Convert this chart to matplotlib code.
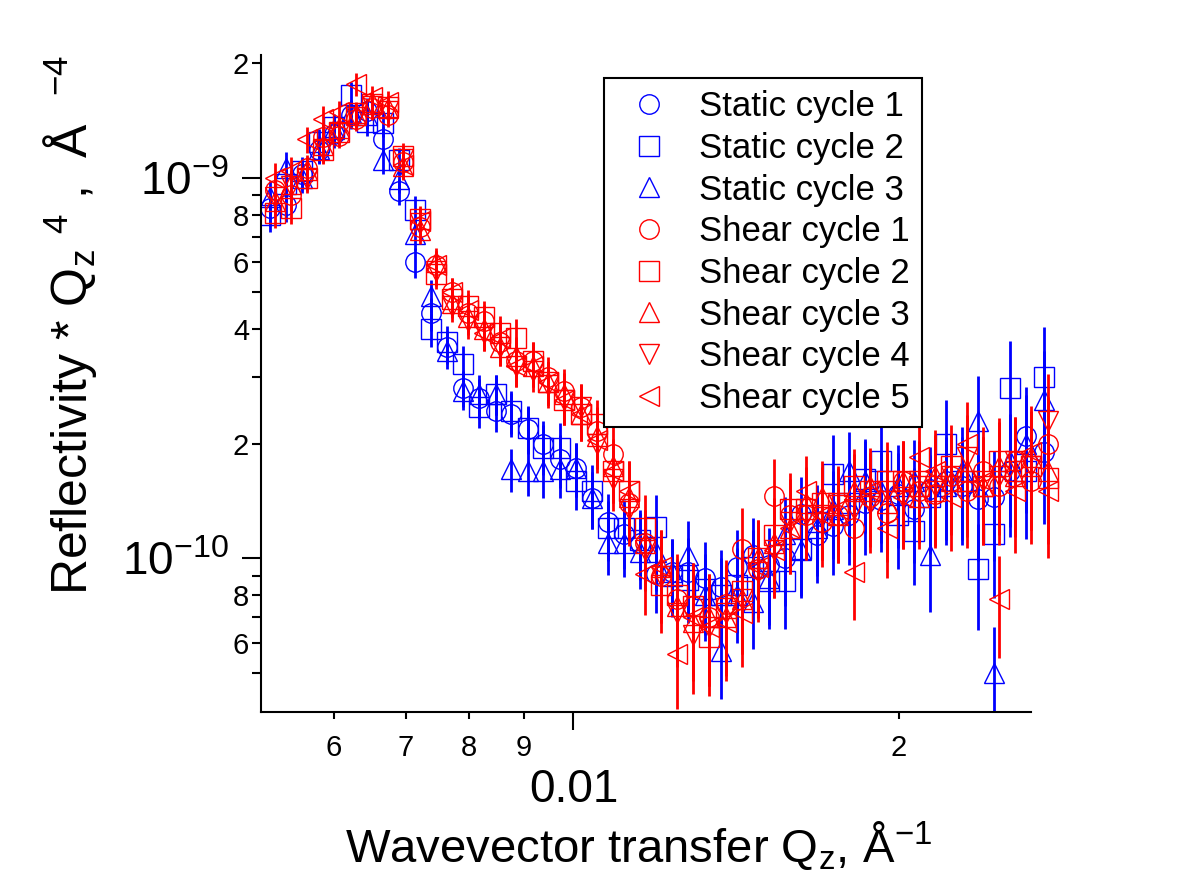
import matplotlib
matplotlib.use('Agg')
import matplotlib.pyplot as plt
from matplotlib.ticker import FixedLocator, FixedFormatter

plt.rcParams['font.family'] = ['Liberation Sans', 'DejaVu Sans']
plt.rcParams['mathtext.fontset'] = 'custom'
plt.rcParams['mathtext.rm'] = 'Liberation Sans'
plt.rcParams['mathtext.it'] = 'Liberation Sans'
plt.rcParams['mathtext.default'] = 'regular'

# значения по оси Y в единицах 1e-10
unit = 1e-10

qz_static = [0.00524, 0.00542, 0.00561, 0.00581, 0.00601, 0.00622, 0.00644, 0.00666,
             0.00689, 0.00713, 0.00738, 0.00764, 0.00791, 0.00818, 0.00847, 0.00876,
             0.00907, 0.00938, 0.00971, 0.01005, 0.01040, 0.01076, 0.01114, 0.01153,
             0.01193, 0.01234, 0.01277, 0.01322, 0.01368, 0.01416, 0.01465, 0.01516,
             0.01569, 0.01624, 0.01680, 0.01739, 0.01800, 0.01862, 0.01927, 0.01995,
             0.02064, 0.02136, 0.02211, 0.02288, 0.02368, 0.02450, 0.02536, 0.02624,
             0.02724]
qz_shear = [0.00530, 0.00548, 0.00567, 0.00587, 0.00607, 0.00629, 0.00651, 0.00673,
            0.00696, 0.00721, 0.00746, 0.00772, 0.00799, 0.00827, 0.00856, 0.00885,
            0.00917, 0.00948, 0.00981, 0.01016, 0.01051, 0.01088, 0.01126, 0.01165,
            0.01206, 0.01247, 0.01291, 0.01336, 0.01383, 0.01431, 0.01481, 0.01532,
            0.01586, 0.01641, 0.01698, 0.01758, 0.01819, 0.01882, 0.01948, 0.02016,
            0.02086, 0.02159, 0.02235, 0.02313, 0.02393, 0.02476, 0.02563, 0.02652,
            0.02745]

static1 = [8.3, 8.5, 10.2, 11.8, 13.0, 14.6, 15.0, 12.6, 9.2, 6.0, 4.4, 3.6, 2.8, 2.64, 2.44, 2.4,
           2.19, 2.0, 1.82, 1.73, 1.44, 1.25, 1.16, 1.1, 0.91, 0.92, 0.92, 0.89, 0.84, 0.95, 1.02, 0.96,
           1.0, 1.31, 1.15, 1.22, 1.3, 1.4, 1.42, 1.48, 1.35, 1.52, 1.6, 1.55, 1.43, 1.45, 1.7, 2.1,
           1.9]
static2 = [8.0, 9.6, 10.4, 12.4, 13.6, 16.5, 14.0, 13.9, 11.1, 8.2, 4.0, 3.7, 3.25, 2.5, 2.7, 2.44,
           2.2, 1.95, 1.95, 1.6, 1.5, 1.2, 1.2, 1.12, 1.21, 0.9, 0.88, 0.83, 0.8, 0.85, 0.95, 0.87,
           0.87, 1.06, 1.25, 1.67, 1.4, 1.62, 1.8, 1.3, 1.18, 1.45, 2.0, 1.6, 0.94, 1.16, 2.8, 1.7,
           3.0]
static3 = [8.9, 10.6, 10.0, 11.9, 13.4, 14.8, 14.6, 11.1, 9.9, 7.1, 4.9, 3.5, 2.75, 2.7, 2.7, 1.72,
           1.7, 1.7, 1.72, 1.73, 1.44, 1.1, 1.1, 1.04, 1.04, 0.92, 1.02, 0.80, 0.57, 0.80, 0.77, 0.89,
           1.16, 1.05, 1.2, 1.35, 1.7, 1.6, 1.5, 1.55, 1.6, 1.02, 1.55, 1.7, 2.3, 0.5, 1.8, 2.0,
           2.6]

shear1 = [9.3, 9.0, 10.6, 12.8, 12.9, 14.3, 15.2, 14.6, 11.0, 7.4, 5.9, 5.0, 4.4, 4.2, 3.7, 3.3,
          3.3, 3.0, 2.76, 2.5, 2.16, 1.88, 1.4, 1.1, 0.9, 0.78, 0.75, 0.7, 0.76, 1.06, 0.94, 1.46,
          1.3, 1.3, 1.25, 1.3, 1.2, 1.45, 1.32, 1.6, 1.5, 1.48, 1.65, 1.5, 1.7, 1.55, 1.8, 1.6,
          2.0]
shear2 = [8.1, 8.3, 10.0, 11.8, 13.2, 14.8, 15.6, 15.3, 11.4, 7.8, 5.6, 4.8, 4.6, 4.3, 3.9, 3.8,
          3.3, 2.9, 2.6, 2.4, 2.25, 1.7, 1.5, 1.2, 0.85, 0.8, 0.75, 0.62, 0.74, 0.82, 1.0, 1.15,
          1.35, 1.35, 1.4, 1.38, 1.55, 1.5, 1.6, 1.6, 1.55, 1.5, 1.75, 1.6, 1.55, 1.8, 1.7, 1.75,
          1.63]
shear3 = [8.7, 9.6, 10.5, 12.2, 13.5, 14.6, 15.8, 15.2, 10.7, 7.3, 6.0, 4.7, 4.3, 4.0, 3.6, 3.4,
          3.2, 2.9, 2.7, 2.4, 2.1, 1.75, 1.45, 1.1, 0.95, 0.75, 0.68, 0.7, 0.7, 0.78, 1.0, 1.1,
          1.2, 1.4, 1.45, 1.3, 1.5, 1.55, 1.4, 1.6, 1.45, 1.65, 1.6, 1.7, 1.55, 1.75, 1.65, 1.85,
          1.7]
shear4 = [8.9, 9.5, 9.9, 11.9, 13.1, 14.4, 15.4, 15.0, 11.2, 7.6, 5.7, 4.6, 4.2, 3.9, 3.6, 3.2,
          3.1, 2.85, 2.6, 2.5, 2.0, 1.62, 1.35, 1.05, 0.9, 0.72, 0.63, 0.66, 0.72, 0.78, 0.92, 1.05,
          1.25, 1.3, 1.3, 1.4, 1.35, 1.4, 1.5, 1.45, 1.6, 1.55, 1.65, 1.85, 1.6, 1.65, 1.8, 1.75,
          2.3]
shear5 = [10.0, 10.4, 12.6, 14.3, 14.9, 17.6, 16.3, 15.8, 10.8, 7.7, 5.9, 5.0, 4.5, 3.9, 3.8, 3.2,
          3.2, 2.9, 2.6, 2.4, 2.05, 1.7, 1.5, 0.91, 0.95, 0.56, 0.7, 0.66, 0.68, 0.72, 0.95, 1.05,
          1.2, 1.5, 1.3, 1.35, 0.92, 1.5, 1.2, 1.45, 1.85, 1.7, 1.45, 2.0, 1.6, 0.78, 1.5, 1.9,
          1.5]

# относительные погрешности
err_static = [0.10, 0.10, 0.09, 0.08, 0.08, 0.08, 0.08, 0.08, 0.08, 0.09, 0.10, 0.10, 0.11, 0.12, 0.12, 0.13,
              0.14, 0.15, 0.16, 0.16, 0.17, 0.18, 0.19, 0.20, 0.21, 0.22, 0.23, 0.24, 0.25, 0.25, 0.25, 0.25,
              0.25, 0.25, 0.25, 0.26, 0.26, 0.27, 0.27, 0.28, 0.28, 0.29, 0.30, 0.30, 0.31, 0.32, 0.33, 0.34,
              0.35]
err_shear = [0.09, 0.09, 0.08, 0.08, 0.07, 0.07, 0.07, 0.07, 0.08, 0.08, 0.09, 0.09, 0.10, 0.10, 0.11, 0.12,
             0.12, 0.13, 0.14, 0.15, 0.16, 0.18, 0.20, 0.22, 0.25, 0.28, 0.30, 0.30, 0.30, 0.28, 0.26, 0.25,
             0.24, 0.24, 0.24, 0.25, 0.25, 0.26, 0.26, 0.27, 0.27, 0.28, 0.28, 0.29, 0.30, 0.30, 0.31, 0.32,
             0.33]

labels = ['Static cycle 1', 'Static cycle 2', 'Static cycle 3', 'Shear cycle 1',
          'Shear cycle 2', 'Shear cycle 3', 'Shear cycle 4', 'Shear cycle 5']
values = [static1, static2, static3, shear1, shear2, shear3, shear4, shear5]
markers = ['o', 's', '^', 'o', 's', '^', 'v', '<']

fig = plt.figure(figsize=(11.82, 8.86), dpi=100)
ax = fig.add_axes([261 / 1182, 1 - 712 / 886, (1066 - 261) / 1182, (712 - 55) / 886])

for i in range(8):
    if i < 3:
        q, err, color = qz_static, err_static, 'blue'
    else:
        q, err, color = qz_shear, err_shear, 'red'
    y = [v * unit for v in values[i]]
    ye = [v * unit * e for v, e in zip(values[i], err)]
    ax.errorbar(q, y, yerr=ye, fmt='none', ecolor=color, elinewidth=2, capsize=0)
    ax.plot(q, y, ls='none', marker=markers[i], ms=14, mfc='none', mec=color, mew=1.0,
            label=labels[i])

ax.set_xscale('log')
ax.set_yscale('log')
ax.set_xlim(0.00514, 0.02855)
ax.set_ylim(3.95e-11, 2.1e-9)

ax.spines['top'].set_visible(False)
ax.spines['right'].set_visible(False)
ax.spines['left'].set_linewidth(1.5)
ax.spines['bottom'].set_linewidth(1.5)
ax.spines['bottom'].set_bounds(0.00514, 0.0265)

ax.xaxis.set_major_locator(FixedLocator([0.01]))
ax.xaxis.set_major_formatter(FixedFormatter(['0.01']))
ax.xaxis.set_minor_locator(FixedLocator([0.006, 0.007, 0.008, 0.009, 0.02]))
ax.xaxis.set_minor_formatter(FixedFormatter(['6', '7', '8', '9', '2']))
ax.tick_params(axis='x', which='major', length=13, width=1.5, labelsize=33, pad=27)
ax.tick_params(axis='x', which='minor', length=5, width=1.5, labelsize=21, pad=11)

ax.yaxis.set_major_locator(FixedLocator([1e-10, 1e-9]))
ax.yaxis.set_major_formatter(FixedFormatter(['$10^{-10}$', '$10^{-9}$']))
ax.yaxis.set_minor_locator(FixedLocator([5e-11, 6e-11, 7e-11, 8e-11, 9e-11, 2e-10, 3e-10, 4e-10,
                                         5e-10, 6e-10, 7e-10, 8e-10, 9e-10, 2e-9]))
ax.yaxis.set_minor_formatter(FixedFormatter(['', '6', '', '8', '', '2', '', '4',
                                             '', '6', '', '8', '', '2']))
ax.tick_params(axis='y', which='major', length=13.5, width=1.5, labelsize=33, pad=10)
ax.tick_params(axis='y', which='minor', length=6.5, width=1.5, labelsize=21, pad=2)

leg = ax.legend(loc='upper left', bbox_to_anchor=(604 / 1182, 1 - 78 / 886),
                bbox_transform=fig.transFigure, fancybox=False, edgecolor='black',
                fontsize=25, handlelength=1.9, handletextpad=0.5, labelspacing=0.25,
                borderpad=0.35, borderaxespad=0, framealpha=1)
leg.get_frame().set_linewidth(1.5)

fig.text(639 / 1182, 1 - 862 / 886, 'Wavevector transfer Q$_\\mathrm{z}$, Å$^{\\mathrm{-1}}$',
         ha='center', va='baseline', fontsize=34)
fig.text(87 / 1182, 1 - 325 / 886,
         'Reflectivity * Q$_\\mathrm{z}$ $^{\\mathrm{4}}$ ,  Å  $^{\\mathrm{-4}}$',
         rotation=90, rotation_mode='anchor', ha='center', va='baseline', fontsize=36)

fig.savefig('out.png', dpi=100)
